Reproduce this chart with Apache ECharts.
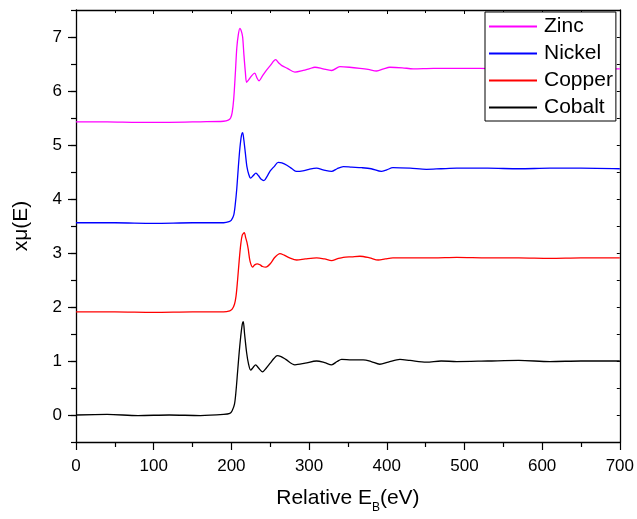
<!DOCTYPE html>
<html>
<head>
<meta charset="utf-8">
<script src="https://cdn.jsdelivr.net/npm/echarts@6/dist/echarts.min.js"></script>
<style>html,body{margin:0;padding:0;background:#fff;}#c{width:637px;height:519px;}</style>
</head>
<body>
<div id="c"></div>
<script>
// ---- data ----
const seriesNames = ['Zinc', 'Nickel', 'Copper', 'Cobalt'];
const seriesColors = ['#FF00FF', '#0000FF', '#FF0000', '#000000'];

const zincX = [0, 40, 80, 120, 160, 190, 196, 199, 201, 203, 205, 207, 209, 211, 213, 214.5, 216, 218, 219.6, 222, 226, 230, 233, 235.5, 240, 245, 250, 257, 261, 265, 272, 281.8, 292.5, 300, 307.6, 318, 329, 339.7, 352, 365.5, 376, 387, 396, 404, 420, 434, 460, 490, 520, 560, 600, 640, 680, 700];
const zincY = [5.43, 5.43, 5.42, 5.42, 5.43, 5.44, 5.46, 5.5, 5.6, 5.85, 6.3, 6.8, 7.05, 7.16, 7.1, 7.0, 6.7, 6.35, 6.16, 6.2, 6.28, 6.33, 6.24, 6.19, 6.28, 6.38, 6.47, 6.58, 6.52, 6.47, 6.42, 6.35, 6.38, 6.41, 6.44, 6.41, 6.38, 6.45, 6.44, 6.42, 6.4, 6.37, 6.41, 6.44, 6.43, 6.41, 6.42, 6.42, 6.42, 6.41, 6.41, 6.42, 6.41, 6.41];

const nickelX = [0, 50, 100, 150, 190, 197, 200, 203, 205, 207, 209, 211, 213, 214.5, 216, 218, 220, 222.5, 224.8, 228, 231.6, 235, 238, 241.9, 246, 250, 255, 260.3, 265, 272, 278, 284, 292, 300, 309.7, 318, 329, 336, 344, 355, 367.6, 380, 393, 400, 408, 430, 451, 470, 490, 530, 570, 610, 650, 700];
const nickelY = [3.56, 3.56, 3.55, 3.56, 3.56, 3.58, 3.61, 3.7, 3.9, 4.2, 4.6, 4.95, 5.18, 5.23, 5.1, 4.85, 4.6, 4.45, 4.385, 4.43, 4.48, 4.43, 4.37, 4.34, 4.42, 4.52, 4.6, 4.68, 4.67, 4.62, 4.56, 4.51, 4.52, 4.55, 4.57, 4.54, 4.51, 4.56, 4.6, 4.59, 4.58, 4.56, 4.51, 4.54, 4.58, 4.57, 4.55, 4.56, 4.57, 4.57, 4.56, 4.57, 4.57, 4.56];

const copperX = [0, 50, 100, 150, 190, 198, 201, 204, 206, 208, 210, 212, 214, 216.6, 218.5, 220, 221.7, 224, 227.3, 230, 233.3, 237, 240, 244.5, 250, 256, 262.5, 268, 275, 284, 295, 309.7, 320, 329, 336, 344, 355, 365.5, 378, 389, 398, 408, 430, 460, 490, 530, 570, 610, 650, 700];
const copperY = [1.91, 1.91, 1.9, 1.91, 1.91, 1.93, 1.96, 2.05, 2.2, 2.5, 2.85, 3.15, 3.33, 3.375, 3.28, 3.2, 3.07, 2.85, 2.74, 2.78, 2.8, 2.78, 2.75, 2.74, 2.8, 2.92, 2.99, 2.96, 2.91, 2.87, 2.89, 2.91, 2.89, 2.86, 2.89, 2.92, 2.93, 2.94, 2.91, 2.87, 2.89, 2.91, 2.91, 2.91, 2.92, 2.91, 2.91, 2.9, 2.91, 2.91];

const cobaltX = [0, 40, 80, 120, 160, 190, 198, 201, 204, 206, 208, 210, 212, 214, 215.3, 217, 219.6, 222, 224.8, 228, 231.2, 235, 240.2, 245, 250, 255, 259, 264, 270, 281.8, 295, 309.7, 320, 329, 336, 341.9, 355, 369.7, 380, 391, 402, 417, 430, 451, 470, 490, 530, 570, 610, 650, 700];
const cobaltY = [0.0, 0.01, -0.01, 0.0, -0.01, 0.01, 0.03, 0.08, 0.2, 0.45, 0.8, 1.15, 1.45, 1.68, 1.727, 1.5, 1.157, 0.95, 0.83, 0.88, 0.93, 0.87, 0.8, 0.87, 0.96, 1.05, 1.1, 1.08, 1.03, 0.93, 0.96, 1.0, 0.97, 0.93, 0.99, 1.03, 1.02, 1.02, 0.99, 0.94, 0.98, 1.03, 1.01, 0.98, 1.0, 0.99, 1.0, 1.01, 0.99, 1.0, 1.0];

const yTickLabels = ['', '0', '', '1', '', '2', '', '3', '', '4', '', '5', '', '6', '', '7', ''];

// ---- chart ----
const FONT = '"Liberation Sans", Arial, sans-serif';
const xs = [zincX, nickelX, copperX, cobaltX];
const ys = [zincY, nickelY, copperY, cobaltY];
const zip = (a, b) => a.map((v, i) => [v, b[i]]);

const chart = echarts.init(document.getElementById('c'), null, { renderer: 'canvas' });
const option = {
  backgroundColor: '#fff',
  animation: false,
  textStyle: { fontFamily: FONT },
  grid: { left: 76, right: 17, top: 10, bottom: 74, containLabel: false },
  legend: {
    orient: 'vertical',
    left: 485, top: 12,
    data: seriesNames,
    icon: 'rect',
    itemWidth: 48, itemHeight: 2,
    itemGap: 6,
    padding: [4, 3, 3, 4],
    backgroundColor: '#fff',
    borderColor: '#000', borderWidth: 1, borderRadius: 0,
    textStyle: { fontSize: 21, color: '#000', fontFamily: FONT, padding: [0, 0, 0, 2] }
  },
  xAxis: [{
    type: 'value', min: 0, max: 700, interval: 100,
    position: 'bottom',
    name: '{a|Relative E}{b|B}{a|(eV)}',
    nameLocation: 'middle', nameGap: 40,
    nameTextStyle: {
      rich: {
        a: { fontSize: 21, color: '#000', fontFamily: FONT },
        b: { fontSize: 12, color: '#000', fontFamily: FONT, padding: [20, 0, 0, 0] }
      }
    },
    axisLine: { show: true, onZero: false, lineStyle: { color: '#000', width: 1.3 } },
    axisTick: { show: true, inside: false, length: 8, lineStyle: { color: '#000', width: 1.2 } },
    minorTick: { show: true, splitNumber: 2, length: 5, lineStyle: { color: '#000', width: 1.2 } },
    axisLabel: { fontSize: 17, color: '#000', margin: 16, fontFamily: FONT },
    splitLine: { show: false }
  }, {
    type: 'value', min: 0, max: 700, interval: 100,
    position: 'top',
    axisLine: { show: true, onZero: false, lineStyle: { color: '#000', width: 1.3 } },
    axisTick: { show: true, inside: true, length: 4, lineStyle: { color: '#000' } },
    minorTick: { show: true, splitNumber: 2, length: 3, lineStyle: { color: '#000' } },
    axisLabel: { show: false },
    splitLine: { show: false }
  }],
  yAxis: [{
    type: 'value', min: -0.5, max: 7.5, interval: 0.5,
    position: 'left',
    axisLine: { show: true, onZero: false, lineStyle: { color: '#000', width: 1.3 } },
    axisTick: { show: true, inside: false, length: 5, lineStyle: { color: '#000', width: 1.2 } },
    axisLabel: { show: false },
    splitLine: { show: false }
  }, {
    type: 'category', boundaryGap: false,
    position: 'left',
    data: yTickLabels,
    name: 'xμ(E)',
    nameLocation: 'middle', nameGap: 44,
    nameTextStyle: { fontSize: 21, color: '#000', fontFamily: FONT },
    axisLine: { show: false, onZero: false },
    axisTick: { show: true, inside: false, length: 8, interval: (i) => i % 2 === 1, lineStyle: { color: '#000', width: 1.2 } },
    axisLabel: { fontSize: 17, color: '#000', margin: 14, interval: (i) => i % 2 === 1, fontFamily: FONT },
    splitLine: { show: false }
  }, {
    type: 'value', min: -0.5, max: 7.5, interval: 0.5,
    position: 'right',
    axisLine: { show: true, onZero: false, lineStyle: { color: '#000', width: 1.3 } },
    axisTick: { show: true, inside: true, length: 3, lineStyle: { color: '#000' } },
    axisLabel: { show: false },
    splitLine: { show: false }
  }],
  series: seriesNames.map((n, i) => ({
    name: n,
    type: 'line',
    xAxisIndex: 0, yAxisIndex: 0,
    data: zip(xs[i], ys[i]),
    showSymbol: false,
    symbol: 'none',
    smooth: 0.3,
    lineStyle: { color: seriesColors[i], width: 1.3 },
    itemStyle: { color: seriesColors[i] }
  }))
};
chart.setOption(option);
</script>
</body>
</html>
